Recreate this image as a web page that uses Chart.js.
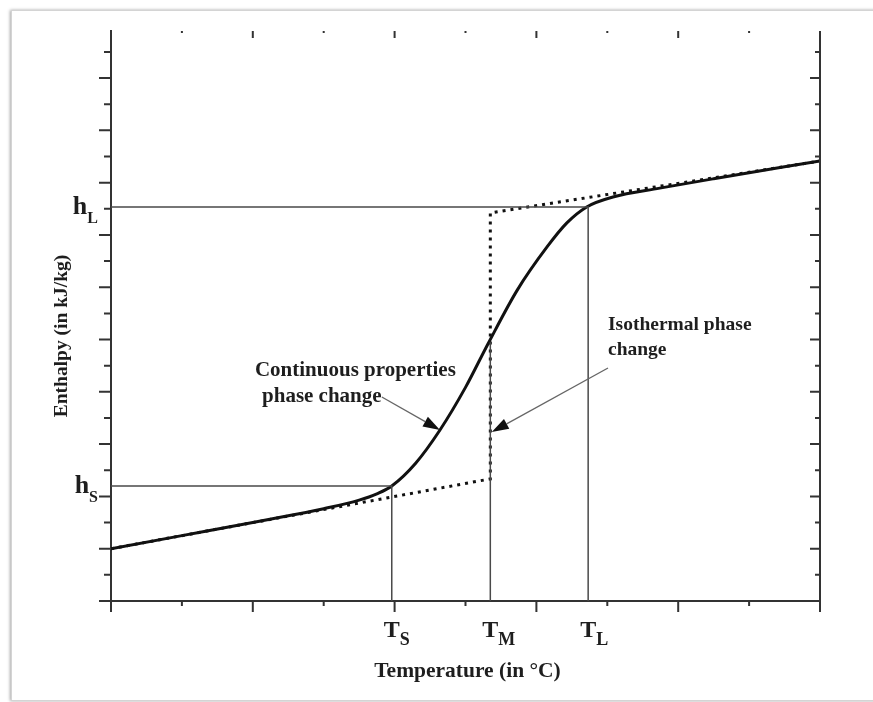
<!DOCTYPE html>
<html>
<head>
<meta charset="utf-8">
<script src="https://cdn.jsdelivr.net/npm/chart.js@4.4.0/dist/chart.umd.min.js"></script>
<style>
  html, body { margin: 0; padding: 0; background: #fff; }
  #page { position: relative; width: 873px; height: 702px; overflow: hidden; }
  #frame { position: absolute; left: 11px; top: 10px; width: 900px; height: 689px;
           border: 1px solid #d4d4d4; box-shadow: -1px 0 3px rgba(0,0,0,0.35); }
  canvas { position: absolute; left: 0; top: 0; }
</style>
</head>
<body>
<div id="page">
  <div id="frame"></div>
  <canvas id="chart" width="873" height="702"></canvas>
</div>
<script>
// axis ranges (arbitrary units, the original has no numbers on its axes)
const tempRange = [0, 10];
const enthRange = [0, 21.8];
const tempTicks = [0, 1, 2, 3, 4, 5, 6, 7, 8, 9, 10];
const enthTicks = [0, 1, 2, 3, 4, 5, 6, 7, 8, 9, 10, 11, 12, 13, 14, 15, 16, 17, 18, 19, 20, 21];

// phase change markers: T_S, T_M, T_L and h_S, h_L
const phaseTemps = [3.96, 5.35, 6.73];
const phaseTempSubs = ['S', 'M', 'L'];
const phaseEnth = [4.4, 15.07];
const phaseEnthSubs = ['S', 'L'];

// continuous properties phase change (solid curve)
const continuousT = [0, 1, 2, 2.5, 3, 3.5, 3.75, 3.96, 4.3, 4.64, 5.0, 5.32, 5.73, 6.15, 6.43, 6.71, 7.08, 7.74, 8.5, 10];
const continuousH = [2.0, 2.5, 3.0, 3.26, 3.53, 3.86, 4.1, 4.4, 5.28, 6.54, 8.17, 9.85, 11.89, 13.54, 14.46, 15.07, 15.45, 15.79, 16.15, 16.83];

// isothermal phase change (dotted)
const isothermalT = [0, 5.35, 5.35, 10];
const isothermalH = [2.0, 4.67, 14.84, 16.83];

// the T_M guide stops where it meets the solid curve
const tmGuideTop = 9.9;

const toPoints = (xs, ys) => xs.map((x, i) => ({ x: x, y: ys[i] }));

const guideStyle = {
  borderColor: '#4a4a4a',
  borderWidth: 1.5,
  pointRadius: 0,
  tension: 0,
  fill: false
};

const datasets = [
  Object.assign({ data: [{ x: 0, y: phaseEnth[0] }, { x: phaseTemps[0], y: phaseEnth[0] }, { x: phaseTemps[0], y: 0 }] }, guideStyle),
  Object.assign({ data: [{ x: 0, y: phaseEnth[1] }, { x: phaseTemps[2], y: phaseEnth[1] }, { x: phaseTemps[2], y: 0 }] }, guideStyle),
  Object.assign({ data: [{ x: phaseTemps[1], y: 0 }, { x: phaseTemps[1], y: tmGuideTop }] }, guideStyle),
  {
    data: toPoints(isothermalT, isothermalH),
    borderColor: '#111',
    borderWidth: 3,
    borderDash: [3, 5],
    pointRadius: 0,
    tension: 0
  },
  {
    data: toPoints(continuousT, continuousH),
    borderColor: '#111',
    borderWidth: 3,
    pointRadius: 0,
    cubicInterpolationMode: 'monotone'
  }
];

// text notes, given in data coordinates
const notes = [
  { text: 'Continuous properties', x: 2.03, y: 8.62, size: 21 },
  { text: 'phase change', x: 2.13, y: 7.6, size: 21 },
  { text: 'Isothermal phase', x: 7.01, y: 10.35, size: 19.5 },
  { text: 'change', x: 7.01, y: 9.4, size: 19.5 }
];
const arrows = [
  { from: [3.82, 7.8], to: [4.64, 6.54] },
  { from: [7.01, 8.91], to: [5.37, 6.46] }
];

const serif = '"Liberation Serif", "DejaVu Serif", serif';
const ink = '#1e1e1e';

function drawSubLabel(ctx, main, sub, x, y, mainSize, subSize, drop, anchor) {
  ctx.font = 'bold ' + mainSize + 'px ' + serif;
  const wm = ctx.measureText(main).width;
  ctx.font = 'bold ' + subSize + 'px ' + serif;
  const ws = ctx.measureText(sub).width;
  let x0;
  if (anchor === 'center-main') x0 = x - wm / 2;
  else x0 = x - wm - ws; // right aligned
  ctx.textAlign = 'left';
  ctx.textBaseline = 'alphabetic';
  ctx.font = 'bold ' + mainSize + 'px ' + serif;
  ctx.fillText(main, x0, y);
  ctx.font = 'bold ' + subSize + 'px ' + serif;
  ctx.fillText(sub, x0 + wm, y + drop);
}

const decorations = {
  id: 'decorations',
  afterDraw(chart) {
    const ctx = chart.ctx;
    const xs = chart.scales.x;
    const ys = chart.scales.y;
    const area = chart.chartArea;
    ctx.save();
    ctx.strokeStyle = '#333';
    ctx.lineWidth = 2;

    // right axis line
    ctx.beginPath();
    ctx.moveTo(area.right, area.top);
    ctx.lineTo(area.right, area.bottom);
    ctx.stroke();

    // x ticks: outward at bottom, inward at top
    tempTicks.forEach((v) => {
      const px = xs.getPixelForValue(v);
      const major = v % 2 === 0;
      ctx.beginPath();
      ctx.moveTo(px, area.bottom);
      ctx.lineTo(px, area.bottom + (major ? 11 : 5));
      ctx.moveTo(px, area.top);
      ctx.lineTo(px, area.top + (major ? 7 : 2));
      ctx.stroke();
    });

    // y ticks: outward on the left, inward on the right
    enthTicks.forEach((v) => {
      const py = ys.getPixelForValue(v);
      const major = v % 2 === 0;
      ctx.beginPath();
      ctx.moveTo(area.left - (major ? 12 : 7), py);
      ctx.lineTo(area.left, py);
      ctx.moveTo(area.right - (major ? 10 : 5), py);
      ctx.lineTo(area.right, py);
      ctx.stroke();
    });

    ctx.fillStyle = ink;

    // T labels under the axis
    phaseTemps.forEach((v, i) => {
      drawSubLabel(ctx, 'T', phaseTempSubs[i], xs.getPixelForValue(v), area.bottom + 36, 24, 18, 8, 'center-main');
    });

    // h labels left of the axis
    phaseEnth.forEach((v, i) => {
      drawSubLabel(ctx, 'h', phaseEnthSubs[i], area.left - 13, ys.getPixelForValue(v) + 7, 26, 16, 9, 'right');
    });

    // axis titles
    ctx.font = 'bold 21.5px ' + serif;
    ctx.textAlign = 'center';
    ctx.fillText('Temperature (in \u00B0C)', (area.left + area.right) / 2 + 2, area.bottom + 76);

    ctx.save();
    ctx.translate(67, (area.top + area.bottom) / 2 + 20);
    ctx.rotate(-Math.PI / 2);
    ctx.font = 'bold 19.5px ' + serif;
    ctx.textAlign = 'center';
    ctx.fillText('Enthalpy (in kJ/kg)', 0, 0);
    ctx.restore();

    // notes
    ctx.textAlign = 'left';
    notes.forEach((n) => {
      ctx.font = 'bold ' + n.size + 'px ' + serif;
      ctx.fillText(n.text, xs.getPixelForValue(n.x), ys.getPixelForValue(n.y));
    });

    // arrows
    arrows.forEach((a) => {
      const x1 = xs.getPixelForValue(a.from[0]), y1 = ys.getPixelForValue(a.from[1]);
      const x2 = xs.getPixelForValue(a.to[0]), y2 = ys.getPixelForValue(a.to[1]);
      const ang = Math.atan2(y2 - y1, x2 - x1);
      const len = 17, half = 5.5;
      const bx = x2 - Math.cos(ang) * len, by = y2 - Math.sin(ang) * len;
      ctx.strokeStyle = '#666';
      ctx.lineWidth = 1.3;
      ctx.beginPath();
      ctx.moveTo(x1, y1);
      ctx.lineTo(bx, by);
      ctx.stroke();
      ctx.fillStyle = '#111';
      ctx.beginPath();
      ctx.moveTo(x2, y2);
      ctx.lineTo(bx + Math.sin(ang) * half, by - Math.cos(ang) * half);
      ctx.lineTo(bx - Math.sin(ang) * half, by + Math.cos(ang) * half);
      ctx.closePath();
      ctx.fill();
    });

    ctx.restore();
  }
};

const ctx = document.getElementById('chart').getContext('2d');
new Chart(ctx, {
  type: 'line',
  data: { datasets: datasets },
  options: {
    responsive: false,
    animation: false,
    events: [],
    layout: { padding: { left: 111, right: 53, top: 31, bottom: 101 } },
    plugins: { legend: { display: false }, tooltip: { enabled: false } },
    scales: {
      x: {
        type: 'linear',
        min: tempRange[0],
        max: tempRange[1],
        ticks: { display: false },
        grid: { display: false, drawTicks: false },
        border: { display: true, color: '#333', width: 2 }
      },
      y: {
        type: 'linear',
        min: enthRange[0],
        max: enthRange[1],
        ticks: { display: false },
        grid: { display: false, drawTicks: false },
        border: { display: true, color: '#333', width: 2 }
      }
    }
  },
  plugins: [decorations]
});
</script>
</body>
</html>
